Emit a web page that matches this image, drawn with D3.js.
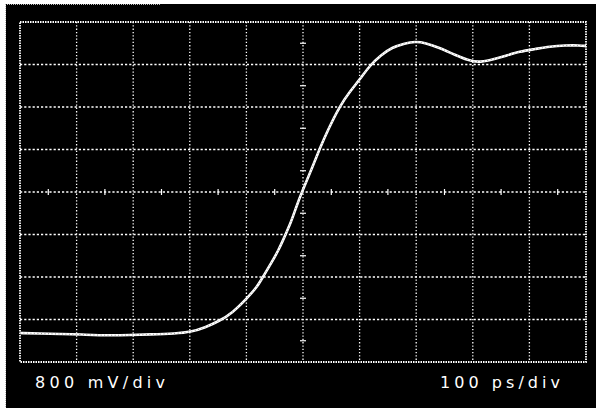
<!DOCTYPE html>
<html>
<head>
<meta charset="utf-8">
<script src="https://cdn.jsdelivr.net/npm/d3@7"></script>
<style>
  html, body { margin: 0; padding: 0; background: #fff; }
  svg { display: block; }
</style>
</head>
<body>
<svg id="chart" width="596" height="411"></svg>
<script>
// Oscilloscope step response: time (ps) vs voltage (mV), center of screen = 0 mV
const timePs = [0, 35, 71, 106, 159, 194, 230, 274, 302, 327, 352, 375, 401, 419, 430, 443, 457, 468, 479, 488, 498, 516, 530, 544, 565, 583, 601, 618, 638, 657, 680, 698, 716, 742, 769, 792, 809, 830, 857, 883, 910, 936, 963, 989, 1000];
const voltageMv = [-2654, -2664, -2673, -2682, -2701, -2692, -2682, -2664, -2635, -2551, -2428, -2278, -2000, -1788, -1581, -1355, -1092, -828, -565, -282, 0, 452, 828, 1167, 1619, 1892, 2127, 2381, 2579, 2720, 2800, 2832, 2810, 2711, 2579, 2480, 2440, 2480, 2560, 2645, 2690, 2739, 2760, 2760, 2748];
const timeDivs = d3.range(0, 1001, 100);      // 10 divisions, 100 ps/div
const voltDivs = d3.range(-3200, 3201, 800);  // 8 divisions, 800 mV/div
const labels = ["800 mV/div", "100 ps/div"];

const svg = d3.select("#chart");
const x = d3.scaleLinear().domain([0, 1000]).range([20, 586]);
const y = d3.scaleLinear().domain([-3200, 3200]).range([362, 22]);

// screen
svg.append("rect").attr("x", 6).attr("y", 4).attr("width", 590).attr("height", 404).attr("fill", "#000");
// faint frame dots at top/left of the photo
svg.append("line").attr("x1", 5).attr("x2", 160).attr("y1", 4.5).attr("y2", 4.5)
  .attr("stroke", "#bbb").attr("stroke-width", 1).attr("stroke-dasharray", "1,1");
svg.append("line").attr("x1", 5.5).attr("x2", 5.5).attr("y1", 4).attr("y2", 408)
  .attr("stroke", "#bbb").attr("stroke-width", 1).attr("stroke-dasharray", "1,1");

const grid = svg.append("g");
// vertical grid lines
grid.selectAll("line.v").data(timeDivs.slice(1, -1)).join("line")
  .attr("x1", d => x(d)).attr("x2", d => x(d))
  .attr("y1", y(3200)).attr("y2", y(-3200))
  .attr("stroke", "#fff").attr("stroke-width", 1.3).attr("stroke-dasharray", "1.3,2");
// horizontal grid lines
grid.selectAll("line.h").data(voltDivs.slice(1, -1)).join("line")
  .attr("y1", d => y(d)).attr("y2", d => y(d))
  .attr("x1", x(0)).attr("x2", x(1000))
  .attr("stroke", "#fff").attr("stroke-width", 1.3).attr("stroke-dasharray", "2.2,2");
// border
grid.append("rect")
  .attr("x", x(0)).attr("y", y(3200))
  .attr("width", x(1000) - x(0)).attr("height", y(-3200) - y(3200))
  .attr("fill", "none").attr("stroke", "#fff").attr("stroke-width", 1.8).attr("stroke-dasharray", "1.5,1");

// center-line minor ticks at half divisions
const halfT = d3.range(50, 1000, 100);
const halfV = d3.range(-2800, 3200, 800);
grid.selectAll("line.tx").data(halfT).join("line")
  .attr("x1", d => x(d)).attr("x2", d => x(d))
  .attr("y1", y(0) - 3).attr("y2", y(0) + 3)
  .attr("stroke", "#fff").attr("stroke-width", 1.2);
grid.selectAll("line.ty").data(halfV).join("line")
  .attr("y1", d => y(d)).attr("y2", d => y(d))
  .attr("x1", x(500) - 3).attr("x2", x(500) + 3)
  .attr("stroke", "#fff").attr("stroke-width", 1.2);

// trace
const pts = timePs.map((t, i) => [t, voltageMv[i]]);
const line = d3.line().x(d => x(d[0])).y(d => y(d[1])).curve(d3.curveBasis);
svg.append("path").datum(pts).attr("d", line)
  .attr("fill", "none").attr("stroke", "#fff").attr("stroke-width", 2.6);
svg.append("path").datum(pts).attr("d", line)
  .attr("fill", "none").attr("stroke", "#000").attr("stroke-width", 0.7)
  .attr("stroke-dasharray", "1,2.5").attr("opacity", 0.6);

// labels
svg.append("text").attr("x", 35).attr("y", 388)
  .attr("textLength", 130).attr("lengthAdjust", "spacing")
  .attr("font-family", "DejaVu Sans").attr("font-size", 16).attr("fill", "#fff")
  .text(labels[0]);
svg.append("text").attr("x", 440).attr("y", 388)
  .attr("textLength", 120).attr("lengthAdjust", "spacing")
  .attr("font-family", "DejaVu Sans").attr("font-size", 16).attr("fill", "#fff")
  .text(labels[1]);
</script>
</body>
</html>
